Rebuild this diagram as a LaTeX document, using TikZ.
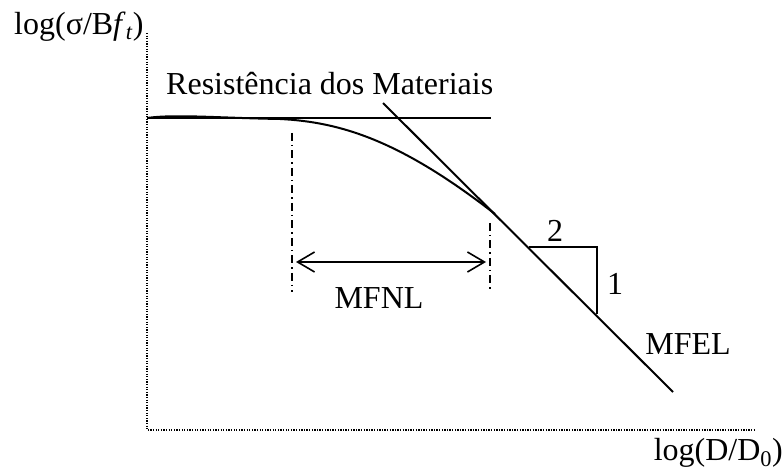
\documentclass[tikz,border=0pt]{standalone}
\usepackage{fontspec}
\setmainfont{Liberation Serif}
\usetikzlibrary{arrows.meta}
\begin{document}
\begin{tikzpicture}[x=1pt,y=-1pt,
  lbl/.style={inner sep=0pt,font=\fontsize{32}{38}\selectfont},
  axisline/.style={line width=1.3pt,dash pattern=on 1.3pt off 1.3pt},
  thick line/.style={line width=2pt},
  dashdot/.style={line width=1.6pt,dash pattern=on 8pt off 4pt on 1.5pt off 4pt}]
\useasboundingbox (0,0) rectangle (784,470);
% axes
\coordinate (ytop) at (147,33);
\coordinate (orig) at (147,430);
\coordinate (xend) at (755,430);
\draw[axisline] (ytop) -- (orig) -- (xend);
\node[lbl,anchor=base west] (ylab) at (14,35) {log(σ/B\textit{f}\textsubscript{\textit{t}})};
\node[lbl,anchor=base east] (xlab) at (783,460) {log(D/D\textsubscript{0})};
% strength line
\coordinate (h0) at (147,118);
\coordinate (h1) at (491,118);
\draw[thick line] (h0) -- (h1);
\node[lbl,anchor=base west] (rm) at (166,95) {Resistência dos Materiais};
% LEFM line
\coordinate (d0) at (383,103);
\coordinate (d1) at (673,392);
\draw[thick line] (d0) -- (d1);
% curve
\coordinate (tp) at (495,214);
\draw[thick line] (h0) .. controls (175,114) and (220,118) .. (280,119)
  .. controls (340,122) and (400,140) .. (tp);
% dash-dot limits
\coordinate (v1a) at (292,133);
\coordinate (v1b) at (292,292);
\coordinate (v2a) at (490,223);
\coordinate (v2b) at (490,292);
\draw[dashdot] (v1a) -- (v1b);
\draw[dashdot] (v2a) -- (v2b);
% arrow
\coordinate (a0) at (296,262);
\coordinate (a1) at (486,262);
\draw[line width=1.6pt,{Straight Barb[length=17pt,width=20pt]}-{Straight Barb[length=17pt,width=20pt]}] (a0) -- (a1);
\node[lbl] (mfnl) at (379,298) {MFNL};
% slope triangle
\coordinate (t0) at (529,247);
\coordinate (t1) at (597,247);
\coordinate (t2) at (597,314);
\draw[thick line] (t0) -- (t1) -- (t2);
\node[lbl] (two) at (555,231) {2};
\node[lbl] (one) at (615,284) {1};
\node[lbl] (mfel) at (688,344) {MFEL};
\end{tikzpicture}
\end{document}
